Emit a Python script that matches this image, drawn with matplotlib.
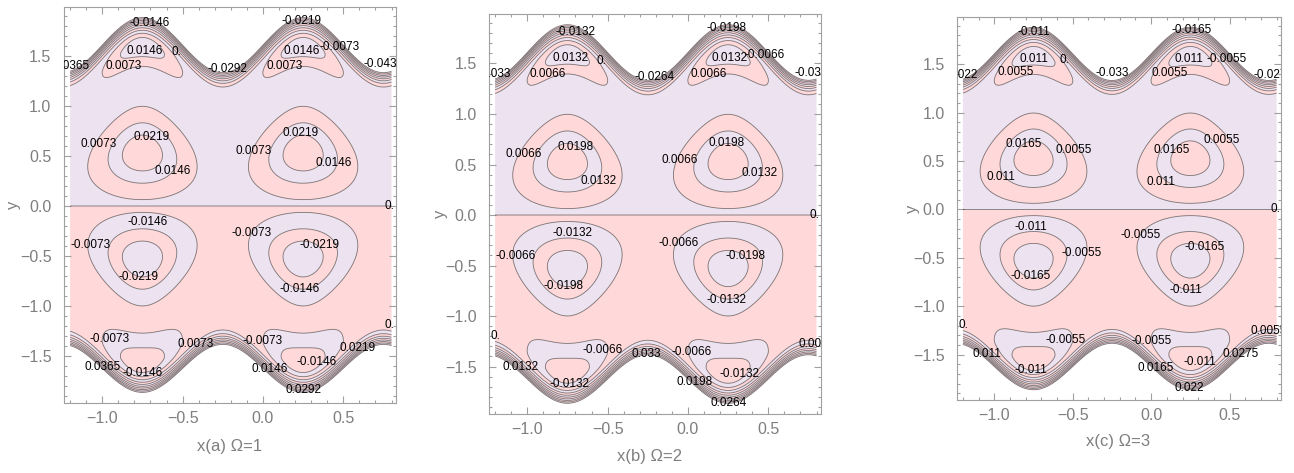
import numpy as np
import matplotlib.pyplot as plt
from matplotlib import font_manager
from matplotlib.ticker import MultipleLocator

# contour step of each panel, levels sit at k * step
STEPS = [0.0073, 0.0066, 0.0055]
X_NAMES = ['x(a) Ω=1', 'x(b) Ω=2', 'x(c) Ω=3']

X_RANGE = (-1.2, 0.8)
# walls: |y| = mean + amp*sin(2*pi*x), last value is the bubble's inner spread
UPPER_WALL = (1.615, 0.275, 0.17)
LOWER_WALL = (1.63, 0.24, 0.25)

# stream function shape, in units of the contour step
VORTEX_X = 0.25          # repeats every 1.0 in x
VORTEX_Y = 0.53
VORTEX_AMP = 3.3
VORTEX_SIZE = (0.235, 0.34)
VORTEX_TAPER = 0.75
BUBBLE_AMP = 2.4
BUBBLE_DEPTH = 0.28
BUBBLE_SIZE = (0.2, 0.11)
WALL_AMP = 8.0
WALL_WIDTH = 0.2
BACKGROUND = 0.5

# contour labels (x, y, k)
LABELS_A = [(-0.708, 1.83, -2), (0.242, 1.85, -3), (-0.733, 1.55, 2), (-0.54, 1.54, 0),
            (0.242, 1.55, 2), (0.478, 1.59, -1), (-1.205, 1.40, -5), (-0.87, 1.40, 1),
            (-0.224, 1.37, -4), (0.137, 1.40, 1), (0.75, 1.42, -6), (-1.025, 0.62, 1),
            (-0.69, 0.69, 3), (-0.56, 0.35, 2), (-0.056, 0.55, 1), (0.236, 0.73, 3),
            (0.44, 0.43, 2), (0.79, 0.0, 0), (-0.72, -0.16, -2), (-0.07, -0.27, -1),
            (-1.075, -0.39, -1), (0.35, -0.39, -3), (-0.776, -0.71, -3), (0.23, -0.83, -2),
            (-0.955, -1.33, -1), (-0.42, -1.38, 1), (0.0, -1.35, -1), (0.59, -1.42, 3),
            (-1.0, -1.61, 5), (-0.75, -1.67, -2), (0.335, -1.56, -2), (0.04, -1.63, 2),
            (0.255, -1.84, 4), (0.79, -1.19, 0)]
LABELS_B = [(-0.70, 1.81, -2), (0.2375, 1.85, -3), (-0.73, 1.55, 2), (-0.54, 1.52, 0),
            (0.256, 1.55, 2), (0.475, 1.58, -1), (-1.206, 1.40, -5), (-0.87, 1.40, 1),
            (-0.21, 1.37, -4), (0.13, 1.40, 1), (0.79, 1.41, -6), (-1.025, 0.60, 1),
            (-0.70, 0.67, 3), (-0.556, 0.34, 2), (-0.05, 0.54, 1), (0.2375, 0.71, 3),
            (0.444, 0.42, 2), (0.79, 0.0, 0), (-0.72, -0.18, -2), (-0.06, -0.28, -1),
            (-1.075, -0.41, -1), (0.36, -0.41, -3), (-0.775, -0.70, -3), (0.24, -0.84, -2),
            (-1.2, -1.20, 0), (-0.53, -1.34, -1), (-0.26, -1.38, 5), (0.02, -1.36, -1),
            (0.8, -1.28, 1), (-1.04, -1.50, 2), (-0.74, -1.67, -2), (0.32, -1.57, -2),
            (0.04, -1.65, 3), (0.256, -1.86, 4)]
LABELS_C = [(-0.745, 1.83, -2), (0.26, 1.855, -3), (-0.75, 1.56, 2), (-0.55, 1.55, 0),
            (0.24, 1.56, 2), (0.48, 1.56, -1), (-1.21, 1.39, -4), (-0.866, 1.42, 1),
            (-0.25, 1.41, -6), (0.12, 1.41, 1), (0.78, 1.39, -5), (-0.815, 0.68, 3),
            (-0.497, 0.62, 1), (-0.955, 0.34, 2), (0.134, 0.62, 3), (0.45, 0.72, 1),
            (0.06, 0.28, 2), (0.79, 0.0, 0), (-0.764, -0.18, -2), (-0.064, -0.26, -1),
            (-0.446, -0.45, -1), (0.34, -0.39, -3), (-0.77, -0.69, -3), (0.223, -0.83, -2),
            (-1.2, -1.19, 0), (-0.548, -1.35, -1), (0.006, -1.36, -1), (0.75, -1.26, 1),
            (-1.05, -1.49, 2), (-0.764, -1.66, -2), (0.57, -1.49, 5), (0.31, -1.575, -2),
            (0.03, -1.64, 3), (0.24, -1.845, 4)]
LABELS = [LABELS_A, LABELS_B, LABELS_C]

PINK = '#ffd9d9'
LAVENDER = '#ede2ef'
GRAY = '#7f7f7f'

# axes boxes in pixels: left, top, right, bottom
BOXES = [(64, 7, 396, 403), (489, 14, 821, 414), (957, 17, 1281, 400)]
XLABEL_POS = [(0.5, -0.091), (0.485, -0.0875), (0.497, -0.089)]
YLABEL_POS = [-0.13, -0.123, -0.114]


def pick_font(names):
    for name in names:
        try:
            font_manager.findfont(name, fallback_to_default=False)
            return name
        except ValueError:
            pass
    return 'DejaVu Sans'


FONT = pick_font(['Liberation Sans', 'Arial', 'DejaVu Sans'])


def half_field(x, y, mean, amp, inner):
    wall = mean + amp * np.sin(2 * np.pi * x)
    s = wall - y
    dx = (x - VORTEX_X + 0.5) % 1 - 0.5
    sx = VORTEX_SIZE[0] * np.clip(1 - VORTEX_TAPER * (y - VORTEX_Y), 0.05, None)
    vort = VORTEX_AMP * np.exp(-(dx / sx) ** 2 - ((y - VORTEX_Y) / VORTEX_SIZE[1]) ** 2)
    sb = np.where(s < BUBBLE_DEPTH, BUBBLE_SIZE[1], inner)
    bub = BUBBLE_AMP * np.exp(-(dx / BUBBLE_SIZE[0]) ** 2 - ((s - BUBBLE_DEPTH) / sb) ** 2)
    ramp = np.clip(1 - s / WALL_WIDTH, 0, None)
    f = np.tanh(y / 0.02) * (BACKGROUND + vort + bub) - WALL_AMP * ramp ** 2
    return f, s


xs = np.linspace(*X_RANGE, 900)
ys = np.linspace(-1.95, 1.95, 1300)
X, Y = np.meshgrid(xs, ys)
fu, su = half_field(X, Y, *UPPER_WALL)
fl, sl = half_field(X, -Y, *LOWER_WALL)
field = np.where(Y >= 0, fu, -fl)
outside = np.where(Y >= 0, su < 0, sl < 0)
field = np.ma.array(field, mask=outside)

ks = np.arange(-11, 12)


def label_text(k, step):
    if k == 0:
        return '0.'
    return ('%.4f' % round(k * step, 4)).rstrip('0')


fig = plt.figure(figsize=(12.94, 4.73), dpi=100)
W, H = 1294, 473

for i, step in enumerate(STEPS):
    l, t, r, b = BOXES[i]
    ax = fig.add_axes([l / W, (H - b) / H, (r - l) / W, (b - t) / H])
    colors = [LAVENDER if k % 2 == 0 else PINK for k in ks[:-1]]
    ax.contourf(X, Y, field * step, levels=ks * step, colors=colors, antialiased=True)
    ax.contour(X, Y, field * step, levels=ks * step, colors='k', alpha=0.5,
               linewidths=0.6, linestyles='solid')

    for x, y, k in LABELS[i]:
        ax.text(x, y, label_text(k, step), fontsize=8.5, family=FONT, ha='center',
                va='center', clip_on=True)

    ax.set_xlim(-1.238, 0.828)
    ax.set_ylim(-1.97, 1.99)
    ax.set_xticks([-1.0, -0.5, 0.0, 0.5])
    ax.set_yticks([-1.5, -1.0, -0.5, 0.0, 0.5, 1.0, 1.5])
    ax.xaxis.set_minor_locator(MultipleLocator(0.1))
    ax.yaxis.set_minor_locator(MultipleLocator(0.1))
    ax.tick_params(which='both', direction='in', top=True, right=True, color='#a0a0a0',
                   width=0.8)
    ax.tick_params(which='major', length=5, labelsize=11.5, labelcolor=GRAY)
    ax.tick_params(which='minor', length=2.5)
    ax.tick_params(axis='x', pad=6)
    ax.tick_params(axis='y', pad=9)
    for lab in ax.get_xticklabels() + ax.get_yticklabels():
        lab.set_family(FONT)
    for sp in ax.spines.values():
        sp.set_color('#a0a0a0')

    ax.set_xlabel(X_NAMES[i], fontsize=12, color=GRAY, family=FONT)
    ax.xaxis.set_label_coords(*XLABEL_POS[i])
    ax.set_ylabel('y', fontsize=12, color=GRAY, family=FONT)
    ax.yaxis.set_label_coords(YLABEL_POS[i], 0.5)

fig.savefig('out.png', dpi=100)
